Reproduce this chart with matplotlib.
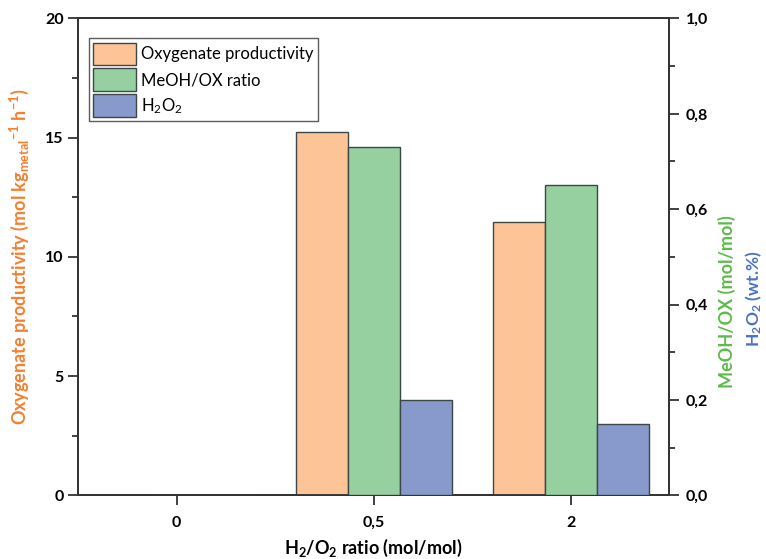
import matplotlib
matplotlib.use("Agg")
import matplotlib.pyplot as plt
import numpy as np
from matplotlib.ticker import MultipleLocator, FuncFormatter
from matplotlib.patches import Patch

plt.rcParams['font.family'] = ['Lato', 'DejaVu Sans']
plt.rcParams['mathtext.default'] = 'regular'

categories = ["0", "0,5", "2"]
oxygenate_productivity = [0.0, 15.25, 11.45]
meoh_ox_ratio = [0.0, 0.73, 0.65]
h2o2 = [0.0, 0.20, 0.15]

c_orange = "#FDC498"
c_green = "#96D0A0"
c_blue = "#8899CC"
edge = "#3d4747"

fig = plt.figure(figsize=(7.66, 5.59), dpi=100)
ax = fig.add_axes([0.1022, 0.114, 0.7712, 0.853])
ax2 = ax.twinx()

x = np.arange(len(categories))
w = 0.264
ax.bar(x - w, oxygenate_productivity, width=w, color=c_orange, edgecolor=edge, linewidth=1.0, zorder=3)
ax2.bar(x, meoh_ox_ratio, width=w, color=c_green, edgecolor=edge, linewidth=1.0, zorder=3)
ax2.bar(x + w, h2o2, width=w, color=c_blue, edgecolor=edge, linewidth=1.0, zorder=3)

ax.set_xlim(-0.5, 2.5)
ax.set_ylim(0, 20)
ax2.set_ylim(0, 1.0)
ax.set_xticks(x)
ax.set_xticklabels(categories)
ax.yaxis.set_major_locator(MultipleLocator(5))
ax.yaxis.set_minor_locator(MultipleLocator(2.5))
ax2.yaxis.set_major_locator(MultipleLocator(0.2))
ax2.yaxis.set_minor_locator(MultipleLocator(0.1))
ax2.yaxis.set_major_formatter(FuncFormatter(lambda v, p: f"{v:.1f}".replace(".", ",")))

for a in (ax, ax2):
    for s in a.spines.values():
        s.set_color("#333333")
        s.set_linewidth(1.3)
    a.tick_params(which='major', direction='out', length=7, width=1.3, color="#333333", labelsize=11.5)
    a.tick_params(which='minor', direction='out', length=4, width=1.3, color="#333333")
    for lab in a.get_xticklabels() + a.get_yticklabels():
        lab.set_fontweight('bold')
ax.tick_params(axis='x', pad=8)
ax2.tick_params(axis='y', pad=5)

ax.set_xlabel("H$_2$/O$_2$ ratio (mol/mol)", fontsize=13, fontweight='bold', labelpad=5)
ax.set_ylabel("Oxygenate productivity (mol kg$_{metal}$$^{-1}$ h$^{-1}$)", fontsize=13,
              fontweight='bold', color="#F47F30", labelpad=10)

fig.text(0.949, 0.46, "MeOH/OX (mol/mol)", rotation=90, ha='center', va='center',
         fontsize=13, fontweight='bold', color="#5DBB4A")
fig.text(0.984, 0.466, "H$_2$O$_2$ (wt.%)", rotation=90, ha='center', va='center',
         fontsize=12.5, fontweight='bold', color="#4A72C8")

handles = [Patch(facecolor=c_orange, edgecolor=edge, linewidth=1.0),
           Patch(facecolor=c_green, edgecolor=edge, linewidth=1.0),
           Patch(facecolor=c_blue, edgecolor=edge, linewidth=1.0)]
labels = ["Oxygenate productivity", "MeOH/OX ratio", "H$_2$O$_2$"]
leg = ax2.legend(handles, labels, loc='upper left', bbox_to_anchor=(0.018, 0.958),
                 fontsize=12, frameon=True, fancybox=False, edgecolor="#333333",
                 handlelength=2.6, handleheight=1.7, handletextpad=0.3,
                 labelspacing=0.2, borderpad=0.25, borderaxespad=0)
leg.get_frame().set_linewidth(1.0)

fig.savefig("out.png", dpi=100)
